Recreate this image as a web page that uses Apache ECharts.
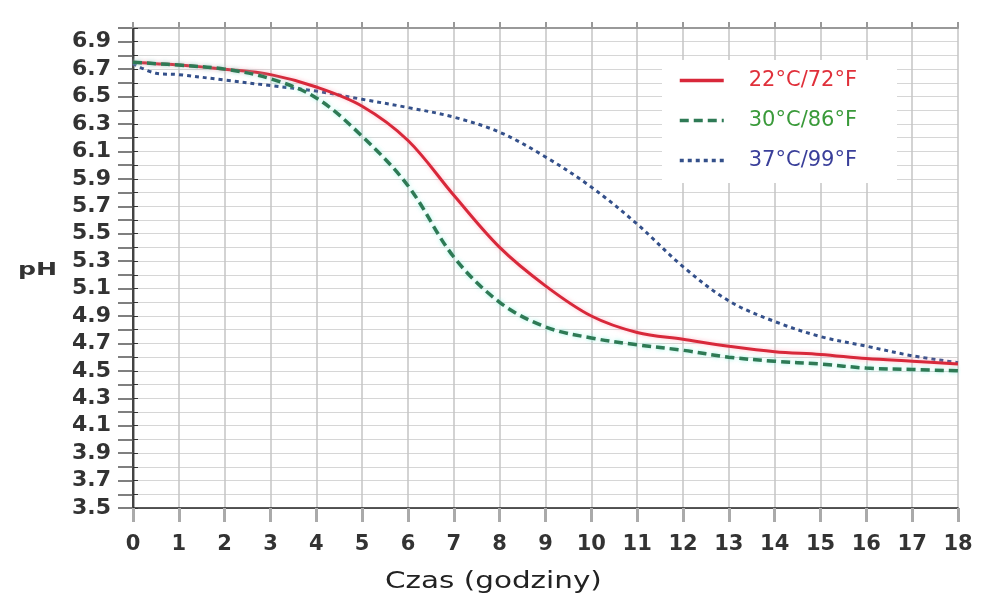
<!DOCTYPE html>
<html><head><meta charset="utf-8">
<script src="https://cdn.jsdelivr.net/npm/echarts@6/dist/echarts.min.js"></script>
<style>html,body{margin:0;padding:0;background:#fff}#c{width:983px;height:603px}</style>
</head><body><div id="c"></div>
<script>
const hours = [0,0.5,1,2,3,4,5,6,7,8,9,10,11,12,13,14,15,16,17,18];
const seriesNames = ['22°C/72°F','30°C/86°F','37°C/99°F'];
const ph22 = [6.75,6.74,6.73,6.70,6.66,6.57,6.43,6.18,5.78,5.40,5.12,4.90,4.78,4.73,4.68,4.64,4.62,4.59,4.57,4.55];
const ph30 = [6.75,6.74,6.73,6.70,6.63,6.49,6.21,5.85,5.33,5.00,4.82,4.74,4.69,4.65,4.60,4.57,4.55,4.52,4.51,4.50];
const ph37 = [6.74,6.67,6.66,6.62,6.58,6.54,6.48,6.42,6.35,6.24,6.06,5.84,5.57,5.26,5.01,4.86,4.75,4.68,4.61,4.56];
const xName = 'Czas (godziny)';
const yName = 'pH';

const pairs = arr => hours.map((h,i)=>[h,arr[i]]);
const chart = echarts.init(document.getElementById('c'));
const lblFont = {fontFamily:'DejaVu Sans', fontWeight:'bold', color:'#333'};
chart.setOption({
  animation:false,
  backgroundColor:'#fff',
  grid:{left:133,right:25,top:28,bottom:95},
  xAxis:[{
    type:'value',min:0,max:18,interval:1,
    axisLine:{show:true,onZero:false,lineStyle:{color:'#222',width:1.5}},
    axisTick:{show:true,length:14,lineStyle:{color:'#aaa',width:3}},
    axisLabel:Object.assign({margin:26,fontSize:21},lblFont),
    splitLine:{show:true,lineStyle:{color:'#c4c4c4',width:1.5}}
  },{
    type:'value',min:0,max:18,interval:1,position:'top',
    axisLine:{show:true,lineStyle:{color:'#999',width:2}},
    axisTick:{show:true,length:6,lineStyle:{color:'#999',width:2}},
    axisLabel:{show:false},splitLine:{show:false}
  }],
  yAxis:[{
    type:'value',min:3.5,max:7.0,interval:0.1,
    axisLine:{show:true,lineStyle:{color:'#aaa',width:3}},
    axisTick:{show:true,length:15,lineStyle:{color:'#555',width:1.5}},
    axisLabel:Object.assign({margin:22,fontSize:22,formatter:v=>{const t=Math.round(v*10);return t%2===1?(t/10).toFixed(1):'';}},lblFont),
    splitLine:{show:true,lineStyle:{color:'#d6d6d6',width:1}}
  },{
    type:'value',min:3.5,max:7.0,interval:0.1,position:'right',
    axisLine:{show:true,lineStyle:{color:'#222',width:1.5}},
    axisTick:{show:true,length:5,lineStyle:{color:'#333',width:1}},
    axisLabel:{show:false},splitLine:{show:false}
  }],
  legend:{
    orient:'vertical',left:662,top:60,
    backgroundColor:'#fff',padding:[10,40,12,16],
    itemWidth:44,itemHeight:14,itemGap:19,
    itemStyle:{opacity:0},
    lineStyle:{width:3.5},
    textStyle:{fontFamily:'DejaVu Sans',fontSize:21,padding:[0,0,0,20]},
    data:[
      {name:seriesNames[0],textStyle:{color:'#e0303a'}},
      {name:seriesNames[1],textStyle:{color:'#3a9a3a'}},
      {name:seriesNames[2],textStyle:{color:'#3a3f9a'}}
    ]
  },
  graphic:[
    {type:'text',x:18,y:270,scaleX:1.4,style:{text:yName,font:'bold 18px "DejaVu Sans"',fill:'#333',textVerticalAlign:'middle'}},
    {type:'text',x:385,y:582,scaleX:1.28,style:{text:xName,font:'23px "DejaVu Sans"',fill:'#222',textVerticalAlign:'middle'}}
  ],
  series:[
    {name:seriesNames[0],type:'line',smooth:0.35,symbol:'none',data:pairs(ph22),
     lineStyle:{color:'#d8283a',width:3,shadowColor:'rgba(255,150,170,0.6)',shadowBlur:4},itemStyle:{color:'#d8283a'},z:3},
    {name:seriesNames[1],type:'line',smooth:0.35,symbol:'none',data:pairs(ph30),
     lineStyle:{color:'#2e7a55',width:3.5,type:[9,5],shadowColor:'rgba(120,240,220,0.7)',shadowBlur:4},itemStyle:{color:'#2e7a55'},z:4},
    {name:seriesNames[2],type:'line',smooth:0.35,symbol:'none',data:pairs(ph37),
     lineStyle:{color:'#34508a',width:3,type:[4,4]},itemStyle:{color:'#34508a'},z:2}
  ]
});
</script></body></html>
